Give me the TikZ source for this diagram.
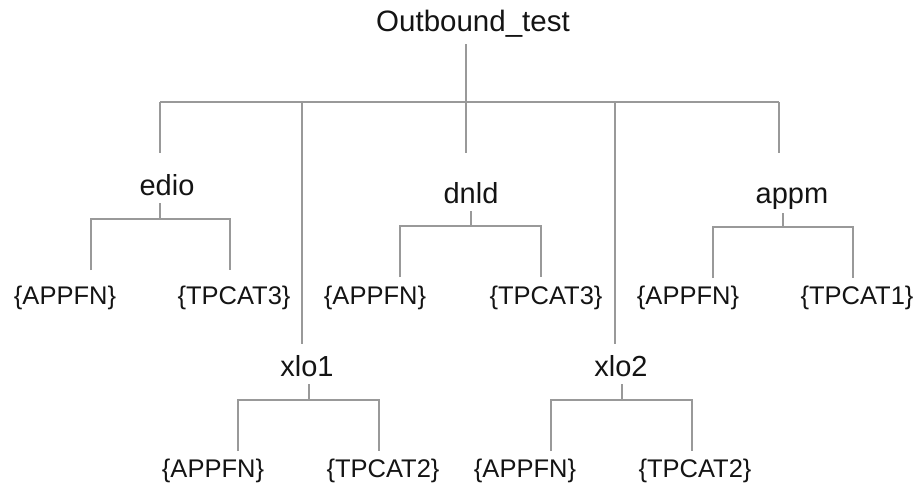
\documentclass[tikz,border=0pt]{standalone}
\usepackage{fontspec}
\setmainfont{Liberation Sans}
\usetikzlibrary{positioning}

\begin{document}
\begin{tikzpicture}[x=1pt,y=1pt,
  branch/.style={draw=black!40,line width=1.2pt},
  rootlbl/.style={anchor=base,inner sep=0pt,text=black!92,font=\fontsize{29.5}{33}\selectfont},
  grplbl/.style={anchor=base,inner sep=0pt,text=black!92,font=\fontsize{29}{33}\selectfont},
  leaflbl/.style={anchor=base,inner sep=0pt,text=black!92,font=\fontsize{25.5}{30}\selectfont}]
\useasboundingbox (0,0) rectangle (922,-485);
\node[rootlbl] (root) at (473,-31) {Outbound\_test};
\node[grplbl] (edio) at (167,-195) {edio};
\node[grplbl] (dnld) at (471,-203) {dnld};
\node[grplbl] (appm) at (792,-203) {appm};
\node[grplbl] (xlo1) at (307,-376) {xlo1};
\node[grplbl] (xlo2) at (621,-376) {xlo2};
\node[leaflbl] (edio_a) at (65,-304) {\{APPFN\}};
\node[leaflbl] (edio_t) at (234,-304) {\{TPCAT3\}};
\node[leaflbl] (dnld_a) at (375,-304) {\{APPFN\}};
\node[leaflbl] (dnld_t) at (546,-304) {\{TPCAT3\}};
\node[leaflbl] (appm_a) at (688,-304) {\{APPFN\}};
\node[leaflbl] (appm_t) at (857,-304) {\{TPCAT1\}};
\node[leaflbl] (xlo1_a) at (213,-477) {\{APPFN\}};
\node[leaflbl] (xlo1_t) at (383,-477) {\{TPCAT2\}};
\node[leaflbl] (xlo2_a) at (525,-477) {\{APPFN\}};
\node[leaflbl] (xlo2_t) at (695,-477) {\{TPCAT2\}};
\coordinate (rootbar) at (466,-102);
\coordinate (edio_top) at (160,-102);
\coordinate (xlo1_top) at (302,-102);
\coordinate (xlo2_top) at (615,-102);
\coordinate (appm_top) at (779,-102);
\coordinate (edio_bot) at (160,-219);
\coordinate (dnld_bot) at (471,-226);
\coordinate (appm_bot) at (783,-227);
\coordinate (xlo1_bot) at (309,-400);
\coordinate (xlo2_bot) at (622,-400);
\draw[branch,shorten <=13pt] (root.base -| rootbar) -- (rootbar);
\draw[branch] (edio_top) -- (appm_top);
\draw[branch,shorten >=42pt] (edio_top) -- (edio.base -| edio_top);
\draw[branch,shorten >=50pt] (rootbar) -- (dnld.base -| rootbar);
\draw[branch,shorten >=50pt] (appm_top) -- (appm.base -| appm_top);
\draw[branch,shorten >=32pt] (xlo1_top) -- (xlo1.base -| xlo1_top);
\draw[branch,shorten >=32pt] (xlo2_top) -- (xlo2.base -| xlo2_top);
\draw[branch,shorten <=8pt] (edio.base -| edio_bot) -- (edio_bot);
\draw[branch,shorten <=8pt] (dnld.base -| dnld_bot) -- (dnld_bot);
\draw[branch,shorten <=10pt] (appm.base -| appm_bot) -- (appm_bot);
\draw[branch,shorten <=8pt] (xlo1.base -| xlo1_bot) -- (xlo1_bot);
\draw[branch,shorten <=8pt] (xlo2.base -| xlo2_bot) -- (xlo2_bot);
\draw[branch,shorten <=34pt,shorten >=34pt] ([xshift=26pt]edio_a.base) |- (edio_bot) -| ([xshift=-4pt]edio_t.base);
\draw[branch,shorten <=27pt,shorten >=27pt] ([xshift=25pt]dnld_a.base) |- (dnld_bot) -| ([xshift=-5pt]dnld_t.base);
\draw[branch,shorten <=26pt,shorten >=26pt] ([xshift=25pt]appm_a.base) |- (appm_bot) -| ([xshift=-4pt]appm_t.base);
\draw[branch,shorten <=26pt,shorten >=26pt] ([xshift=25pt]xlo1_a.base) |- (xlo1_bot) -| ([xshift=-4pt]xlo1_t.base);
\draw[branch,shorten <=26pt,shorten >=26pt] ([xshift=26pt]xlo2_a.base) |- (xlo2_bot) -| ([xshift=-3pt]xlo2_t.base);
\end{tikzpicture}
\end{document}
